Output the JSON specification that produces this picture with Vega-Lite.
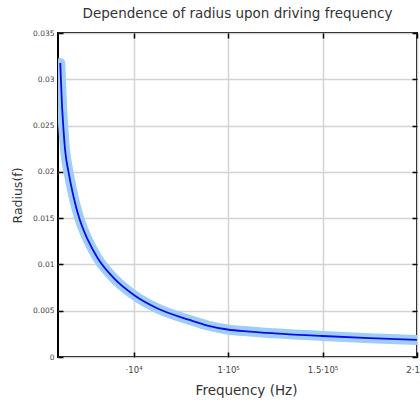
{
  "$schema": "https://vega.github.io/schema/vega-lite/v6.json",
  "autosize": "none",
  "padding": {"left": 58, "top": 33, "right": 3, "bottom": 43},
  "width": 359,
  "height": 324,
  "title": {"text": "Dependence of radius upon driving frequency", "font": "DejaVu Sans", "fontSize": 13.5, "fontWeight": "normal", "color": "#333333", "offset": 9},
  "config": {"view": {"stroke": "black", "strokeWidth": 2}},
  "data": {"values": [
    {"f": 11217, "r": 0.03176},
    {"f": 11534, "r": 0.03000},
    {"f": 12064, "r": 0.02744},
    {"f": 12804, "r": 0.02488},
    {"f": 13757, "r": 0.02236},
    {"f": 15608, "r": 0.01995},
    {"f": 18254, "r": 0.01728},
    {"f": 21270, "r": 0.01498},
    {"f": 25820, "r": 0.01264},
    {"f": 30953, "r": 0.01069},
    {"f": 39948, "r": 0.00843},
    {"f": 50159, "r": 0.00670},
    {"f": 62170, "r": 0.00529},
    {"f": 79630, "r": 0.00400},
    {"f": 89150, "r": 0.00340},
    {"f": 99737, "r": 0.00297},
    {"f": 111400, "r": 0.00275},
    {"f": 124600, "r": 0.00256},
    {"f": 150000, "r": 0.00227},
    {"f": 174870, "r": 0.00203},
    {"f": 200000, "r": 0.00184}
  ]},
  "resolve": {"axis": {"x": "independent", "y": "independent"}},
  "layer": [
    {
      "mark": {"type": "line", "color": "#9dcdf8", "strokeWidth": 10, "strokeCap": "round", "interpolate": "monotone", "clip": true},
      "encoding": {
        "x": {"field": "f", "type": "quantitative", "scale": {"domain": [10000, 200000], "nice": false, "zero": false},
          "axis": {"orient": "bottom", "values": [50000, 100000, 150000, 200000], "grid": true, "gridColor": "#d4d4d4", "gridWidth": 1.5,
            "domain": false, "tickSize": -5, "tickColor": "black", "tickWidth": 1.5, "labelPadding": 13,
            "labelExpr": "datum.value == 50000 ? '·10⁴' : datum.value == 100000 ? '1·10⁵' : datum.value == 150000 ? '1.5·10⁵' : '2·10⁵'",
            "labelFont": "DejaVu Sans", "labelFontSize": 8.5, "labelColor": "#444444", "labelFlush": false, "labelOverlap": false,
            "title": "Frequency (Hz)", "titleFont": "DejaVu Sans", "titleFontSize": 13.5, "titleFontWeight": "normal", "titleColor": "#333333", "titlePadding": 10, "titleX": 188}},
        "y": {"field": "r", "type": "quantitative", "scale": {"domain": [0, 0.035], "nice": false},
          "axis": {"orient": "left", "values": [0, 0.005, 0.01, 0.015, 0.02, 0.025, 0.03, 0.035], "format": ".3~f", "grid": true, "gridColor": "#d4d4d4", "gridWidth": 1.5,
            "domain": false, "tickSize": -5, "tickColor": "black", "tickWidth": 1.5, "labelPadding": 9,
            "labelFont": "DejaVu Sans", "labelFontSize": 7.5, "labelColor": "#444444", "labelFlush": false, "labelOverlap": false,
            "title": "Radius(f)", "titleFont": "DejaVu Sans", "titleFontSize": 12.5, "titleFontWeight": "normal", "titleColor": "#333333", "titlePadding": 8}}
      }
    },
    {
      "mark": {"type": "line", "color": "#0c0ce6", "strokeWidth": 1.8, "interpolate": "monotone", "clip": true},
      "encoding": {
        "x": {"field": "f", "type": "quantitative",
          "axis": {"orient": "top", "values": [50000, 100000, 150000, 200000], "grid": false, "domain": false, "labels": false, "tickSize": -5, "tickColor": "black", "tickWidth": 1.5, "title": null}},
        "y": {"field": "r", "type": "quantitative",
          "axis": {"orient": "right", "values": [0, 0.005, 0.01, 0.015, 0.02, 0.025, 0.03, 0.035], "grid": false, "domain": false, "labels": false, "tickSize": -5, "tickColor": "black", "tickWidth": 1.5, "title": null}}
      }
    }
  ]
}
